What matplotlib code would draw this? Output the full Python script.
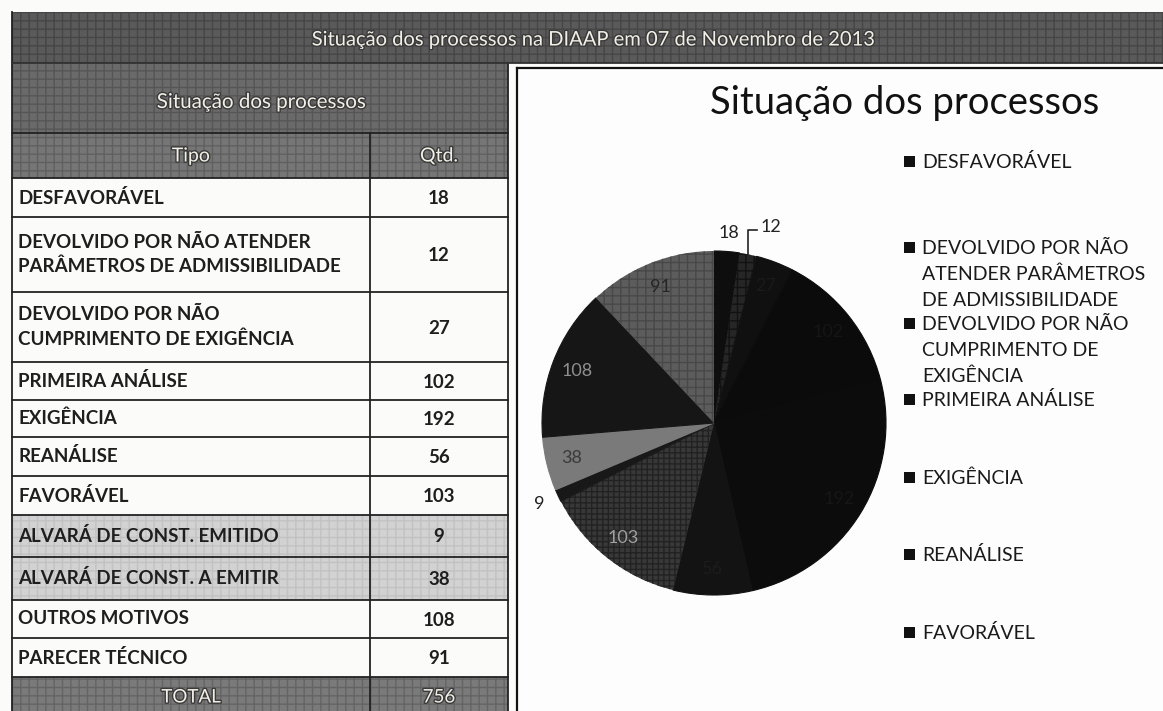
import matplotlib
matplotlib.use("Agg")
import numpy as np
import matplotlib.pyplot as plt
from matplotlib.patches import Rectangle
import matplotlib.patheffects as pe

plt.rcParams["font.family"] = ["Lato", "DejaVu Sans"]

# ---- data -------------------------------------------------------------
TITLE       = "Situação dos processos na DIAAP em 07 de Novembro de 2013"
TABLE_TITLE = "Situação dos processos"
CHART_TITLE = "Situação dos processos"
COL_HEADERS = ["Tipo", "Qtd."]
TIPOS = [
    "DESFAVORÁVEL",
    "DEVOLVIDO POR NÃO ATENDER\nPARÂMETROS DE ADMISSIBILIDADE",
    "DEVOLVIDO POR NÃO\nCUMPRIMENTO DE EXIGÊNCIA",
    "PRIMEIRA ANÁLISE",
    "EXIGÊNCIA",
    "REANÁLISE",
    "FAVORÁVEL",
    "ALVARÁ DE CONST. EMITIDO",
    "ALVARÁ DE CONST. A EMITIR",
    "OUTROS MOTIVOS",
    "PARECER TÉCNICO",
]
QTD = [18, 12, 27, 102, 192, 56, 103, 9, 38, 108, 91]
TOTAL_LABEL = "TOTAL"
# the chart legend is cut off after the 7th entry in the original
LEGEND_LABELS = [
    "DESFAVORÁVEL",
    "DEVOLVIDO POR NÃO\nATENDER PARÂMETROS\nDE ADMISSIBILIDADE",
    "DEVOLVIDO POR NÃO\nCUMPRIMENTO DE\nEXIGÊNCIA",
    "PRIMEIRA ANÁLISE",
    "EXIGÊNCIA",
    "REANÁLISE",
    "FAVORÁVEL",
]

# ---- style / layout (pixels) -----------------------------------------
W, H = 1163, 711
ROW_H     = [39, 75, 70, 38, 37, 39, 39, 42, 43, 38, 39]
SHADED    = {7, 8}
SLICE_COLORS = ["#0e0e0e", "#262626", "#101010", "#0b0b0b", "#0c0c0c", "#131313",
                "#383838", "#181818", "#7a7a7a", "#161616", "#5c5c5c"]
SLICE_HATCH  = [None, "++", None, None, None, None, "+++", None, None, None, "++"]
HATCH_COLORS = [None, "#121212", None, None, None, None, "#222222", None, None, None,
                "#484848"]
LABEL_MODE   = ["out", "lead", "in", "in", "in", "in", "in", "out", "in", "in", "in"]
LABEL_COLORS = ["#222222", "#222222", "#1a1a1a", "#151515", "#161616", "#1c1c1c",
                "#a0a0a0", "#222222", "#3a3a3a", "#8e8e8e", "#262626"]
LEGEND_Y   = [162, 248, 324, 400, 478, 555, 633]
LINE_PITCH = 26

fig = plt.figure(figsize=(W / 100, H / 100), dpi=100)
fig.patch.set_facecolor("#fbfbfa")
ax = fig.add_axes([0, 0, 1, 1])
ax.set_xlim(0, W)
ax.set_ylim(H, 0)
ax.axis("off")

x0, xmid, x1 = 12, 370, 508
emboss = [pe.withStroke(linewidth=2, foreground="#3a3a3a")]

# title band
ax.add_patch(Rectangle((x0, 12), W - x0, 51, facecolor="#5a5a5a", edgecolor="#464646",
                       hatch="++", lw=0))
ax.text(593, 40, TITLE, ha="center", va="center", fontsize=14.5, color="#f2f0e6",
        path_effects=emboss)

# table sub-header
ax.add_patch(Rectangle((x0, 63), x1 - x0, 70, facecolor="#6a6a6a", edgecolor="#565656",
                       hatch="++", lw=0))
ax.text(261, 102, TABLE_TITLE, ha="center", va="center", fontsize=14.8, color="#f2f0e6",
        path_effects=emboss)

# column header
ax.add_patch(Rectangle((x0, 133), x1 - x0, 45, facecolor="#767676", edgecolor="#606060",
                       hatch="++", lw=0))
ax.text((x0 + xmid) / 2, 156, COL_HEADERS[0], ha="center", va="center", fontsize=14,
        color="#f2f0e6", path_effects=emboss)
ax.text((xmid + x1) / 2, 156, COL_HEADERS[1], ha="center", va="center", fontsize=14,
        color="#f2f0e6", path_effects=emboss)

# body rows
y = 178
for i, (tipo, q) in enumerate(zip(TIPOS, QTD)):
    h = ROW_H[i]
    if i in SHADED:
        ax.add_patch(Rectangle((x0, y), x1 - x0, h, facecolor="#d2d2d2", edgecolor="#c2c2c2",
                               hatch="++", lw=0))
    ax.text(18, y + h / 2, tipo, ha="left", va="center", fontsize=13.5, fontweight="bold",
            color="#1e1e1e", linespacing=1.45)
    ax.text((xmid + x1) / 2, y + h / 2 + 1, str(q), ha="center", va="center", fontsize=13.5,
            fontweight="bold", color="#1e1e1e")
    ax.plot([x0, x1], [y, y], color="#222222", lw=1.3)
    y += h
ax.plot([x0, x1], [y, y], color="#222222", lw=1.3)

# total row
ax.add_patch(Rectangle((x0, y), x1 - x0, H - y, facecolor="#7a7a7a", edgecolor="#646464",
                       hatch="++", lw=0))
ax.text((x0 + xmid) / 2, y + 20, TOTAL_LABEL, ha="center", va="center", fontsize=13.5,
        color="#f2f0e6", path_effects=emboss)
ax.text((xmid + x1) / 2, y + 20, str(sum(QTD)), ha="center", va="center", fontsize=13.5,
        color="#f2f0e6", path_effects=emboss)

# table grid
ax.plot([x0, x0], [12, H], color="#222222", lw=1.3)
ax.plot([x1, x1], [63, H], color="#222222", lw=1.3)
ax.plot([xmid, xmid], [133, H], color="#222222", lw=1.3)
ax.plot([x0, x1], [133, 133], color="#222222", lw=1.3)
ax.plot([x0, W], [63, 63], color="#333333", lw=1.3)

# chart panel
ax.add_patch(Rectangle((517, 68), W - 517, H - 68, facecolor="#fdfdfd", edgecolor="none"))
ax.plot([517, 517], [68, H], color="#111111", lw=1.6)
ax.plot([517, W], [68, 68], color="#111111", lw=1.6)
ax.text(905, 103, CHART_TITLE, ha="center", va="center", fontsize=27.5, color="#111111")

# legend (manual, as in the clipped Excel legend)
for lab, ly in zip(LEGEND_LABELS, LEGEND_Y):
    ax.add_patch(Rectangle((904, ly - 6), 11, 11, facecolor="#111111", edgecolor="none"))
    for k, line in enumerate(lab.split("\n")):
        ax.text(922, ly + k * LINE_PITCH, line, ha="left", va="center", fontsize=14,
                color="#1a1a1a")

# pie
cx, cy, r = 714, 423, 172
pax = fig.add_axes([(cx - r) / W, (H - cy - r) / H, 2 * r / W, 2 * r / H])
wedges, _ = pax.pie(QTD, colors=SLICE_COLORS, startangle=90, counterclock=False,
                    wedgeprops=dict(linewidth=0))
for w, col, hatch, hc in zip(wedges, SLICE_COLORS, SLICE_HATCH, HATCH_COLORS):
    if hatch:
        w.set_hatch(hatch)
        w.set_edgecolor(hc)
        w.set_linewidth(0)
    else:
        # hide the antialiasing seams between the dark slices
        w.set_edgecolor(col)
        w.set_linewidth(0.8)
pax.set_xlim(-1, 1)
pax.set_ylim(-1, 1)
pax.axis("off")

for w, q, mode, col in zip(wedges, QTD, LABEL_MODE, LABEL_COLORS):
    th = np.deg2rad((w.theta1 + w.theta2) / 2)
    ux, uy = np.cos(th), np.sin(th)
    if mode == "in":
        pax.text(0.85 * ux, 0.85 * uy, str(q), ha="center", va="center", fontsize=13,
                 color=col)
    elif mode == "out":
        pax.text(1.12 * ux, 1.11 * uy, str(q), ha="center", va="center", fontsize=13,
                 color=col)
    else:
        # leader line: up from the wedge edge then a short tick to the right
        pax.plot([ux, ux, ux + 0.05], [uy, 1.12, 1.12], color="#222222", lw=1.2,
                 clip_on=False)
        pax.text(ux + 0.07, 1.14, str(q), ha="left", va="center", fontsize=13, color=col)

fig.savefig("out.png", dpi=100)
